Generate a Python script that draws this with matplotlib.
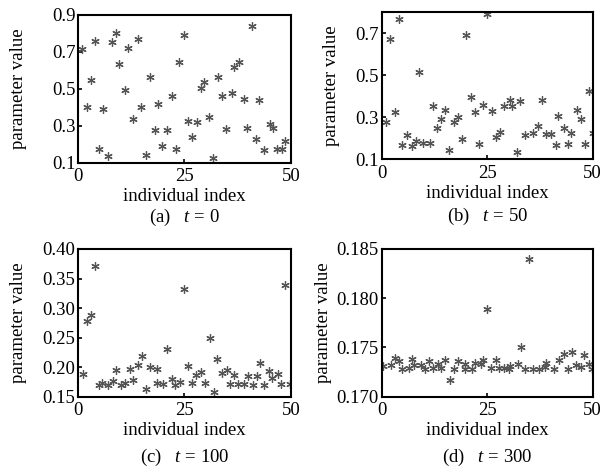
import matplotlib
matplotlib.use("Agg")
import matplotlib.pyplot as plt

plt.rcParams['font.family'] = ['Liberation Serif', 'DejaVu Serif']
plt.rcParams['mathtext.fontset'] = 'custom'
plt.rcParams['mathtext.rm'] = 'Liberation Serif'
plt.rcParams['mathtext.it'] = 'Liberation Serif:italic'
plt.rcParams['font.size'] = 13.5

# (a) t = 0
xa = [1.0, 2.0, 2.9, 4.0, 4.9, 5.9, 7.1, 8.0, 8.9, 9.7, 11.1, 11.8, 13.0, 14.0, 14.7,
      15.9, 16.9, 18.0, 18.8, 19.8, 20.9, 22.0, 22.9, 23.6, 24.8, 25.8, 26.8, 27.9,
      28.8, 29.7, 30.8, 31.6, 33.0, 33.8, 34.8, 36.1, 36.6, 37.9, 38.9, 39.6, 40.9,
      41.8, 42.5, 43.6, 45.0, 45.8, 46.7, 48.0, 48.7]
ya = [0.714, 0.402, 0.545, 0.758, 0.176, 0.389, 0.135, 0.753, 0.801, 0.632, 0.495,
      0.719, 0.336, 0.769, 0.400, 0.140, 0.566, 0.279, 0.420, 0.193, 0.279, 0.459,
      0.176, 0.646, 0.790, 0.327, 0.242, 0.320, 0.502, 0.539, 0.347, 0.127, 0.566,
      0.459, 0.284, 0.475, 0.619, 0.646, 0.443, 0.288, 0.839, 0.230, 0.438, 0.170,
      0.309, 0.288, 0.176, 0.176, 0.218]

# (b) t = 50
xb = [1.0, 2.0, 3.2, 4.1, 4.9, 6.1, 7.3, 8.1, 8.9, 9.9, 11.5, 12.1, 13.2, 14.0, 15.0,
      16.0, 17.1, 18.1, 19.0, 20.1, 21.1, 22.1, 23.0, 23.9, 25.0, 26.1, 27.0, 28.0,
      29.1, 30.3, 31.0, 32.1, 32.9, 33.9, 35.8, 37.0, 38.1, 38.9, 40.2, 41.2, 41.9,
      43.1, 44.2, 44.9, 46.2, 47.2, 48.2, 49.1, 50.0]
yb = [0.278, 0.671, 0.327, 0.768, 0.167, 0.216, 0.163, 0.187, 0.516, 0.178, 0.178,
      0.351, 0.249, 0.292, 0.333, 0.144, 0.278, 0.303, 0.198, 0.692, 0.397, 0.325,
      0.173, 0.356, 0.792, 0.330, 0.208, 0.230, 0.351, 0.384, 0.351, 0.135, 0.375,
      0.216, 0.227, 0.259, 0.384, 0.221, 0.221, 0.168, 0.308, 0.248, 0.173, 0.224,
      0.333, 0.292, 0.173, 0.427, 0.227]

# (c) t = 100
xc = [1.2, 2.0, 3.0, 4.0, 5.0, 5.7, 7.1, 8.1, 9.0, 10.1, 10.9, 12.1, 13.0, 14.1, 15.1,
      15.9, 16.8, 18.5, 18.6, 19.9, 21.0, 22.0, 22.8, 23.9, 24.9, 25.9, 26.8, 27.7,
      28.9, 29.9, 31.0, 31.9, 32.7, 33.9, 34.9, 35.7, 36.7, 37.5, 39.1, 39.9, 41.1,
      42.0, 42.8, 43.7, 44.9, 45.6, 47.0, 47.6, 48.7, 49.8]
yc = [0.1887, 0.2779, 0.2891, 0.3710, 0.1690, 0.1740, 0.1695, 0.1774, 0.1960, 0.1695,
      0.1740, 0.1977, 0.1791, 0.2045, 0.2186, 0.1639, 0.2000, 0.1977, 0.1735, 0.1712,
      0.2299, 0.1797, 0.1690, 0.1746, 0.3326, 0.2028, 0.1735, 0.1865, 0.1915, 0.1735,
      0.2491, 0.1582, 0.2135, 0.1898, 0.1949, 0.1718, 0.1870, 0.1718, 0.1718, 0.1853,
      0.1701, 0.1853, 0.2073, 0.1701, 0.1932, 0.1825, 0.1887, 0.1718, 0.3388, 0.1718]

# (d) t = 300
xd = [0.3, 2.3, 3.1, 4.0, 4.7, 6.4, 7.1, 7.7, 9.4, 10.3, 11.1, 12.2, 13.3, 14.1, 15.0,
      16.2, 17.1, 18.1, 19.7, 19.8, 21.3, 22.1, 23.6, 24.1, 25.0, 26.0, 27.0, 27.7,
      28.9, 30.1, 30.5, 32.2, 33.1, 33.9, 35.0, 35.8, 37.4, 38.8, 38.9, 40.9, 42.0,
      43.1, 44.2, 45.1, 46.1, 47.3, 48.0, 49.1, 49.9]
yd = [0.17310, 0.17324, 0.17398, 0.17365, 0.17283, 0.17294, 0.17382, 0.17324, 0.17324,
      0.17283, 0.17365, 0.17294, 0.17334, 0.17294, 0.17368, 0.17165, 0.17283, 0.17358,
      0.17334, 0.17283, 0.17283, 0.17338, 0.17331, 0.17375, 0.17893, 0.17294, 0.17368,
      0.17294, 0.17294, 0.17283, 0.17314, 0.17331, 0.17500, 0.17283, 0.18400, 0.17283,
      0.17283, 0.17297, 0.17344, 0.17283, 0.17368, 0.17429, 0.17283, 0.17459, 0.17324,
      0.17297, 0.17419, 0.17334, 0.17277]

# data, ylim, yticks, format, tag, t, axes rect, ylabel x, caption y
panels = [
    (xa, ya, (0.1, 0.9), [0.1, 0.3, 0.5, 0.7, 0.9], '%.1f', '(a)', '0',
     [0.127, 0.655, 0.345, 0.314], -0.242, -0.37),
    (xb, yb, (0.1, 0.8), [0.1, 0.3, 0.5, 0.7], '%.1f', '(b)', '50',
     [0.6196, 0.6625, 0.3425, 0.312], -0.198, -0.39),
    (xc, yc, (0.15, 0.40), [0.15, 0.20, 0.25, 0.30, 0.35, 0.40], '%.2f', '(c)', '100',
     [0.127, 0.1595, 0.345, 0.313], -0.242, -0.41),
    (xd, yd, (0.170, 0.185), [0.170, 0.175, 0.180, 0.185], '%.3f', '(d)', '300',
     [0.6196, 0.1595, 0.3425, 0.313], -0.235, -0.41),
]

fig = plt.figure(figsize=(6.16, 4.72), dpi=100)

for x, y, ylim, yticks, fmt, tag, t, rect, ylx, capy in panels:
    ax = fig.add_axes(rect)
    ax.plot(x, y, linestyle='none', marker=(6, 2, 0), markersize=6,
            markeredgecolor='#555555', markeredgewidth=0.9, color='#555555')
    ax.set_xlim(0, 50)
    ax.set_ylim(*ylim)
    ax.set_xticks([0, 25, 50])
    ax.set_yticks(yticks)
    ax.set_yticklabels([fmt % v for v in yticks])
    ax.tick_params(direction='in', length=3, width=1.2, pad=2)
    ax.tick_params(axis='x', pad=4)
    for s in ax.spines.values():
        s.set_linewidth(1.5)
    ax.set_xlabel('individual index', labelpad=2)
    ax.set_ylabel('parameter value')
    ax.yaxis.set_label_coords(ylx, 0.5)
    ax.text(0.5, capy, tag + r'   $t$ = ' + t, transform=ax.transAxes,
            ha='center', va='center')

fig.savefig('out.png', dpi=100)
